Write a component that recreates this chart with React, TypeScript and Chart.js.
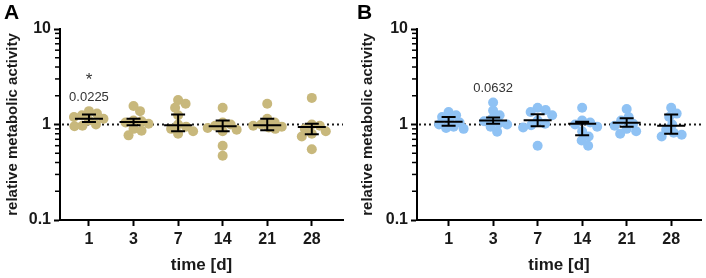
import React, { useEffect, useRef } from 'react';
import { Chart, registerables } from 'chart.js';
Chart.register(...registerables);

// ---------- data ----------
const DAYS = ['1', '3', '7', '14', '21', '28'];
const Y_MAJOR = [0.1, 1, 10];
const Y_MAJOR_LABELS = ['0.1', '1', '10'];
const REF_LINE = 1;

// Panel A (khaki)
const A_D1 = [1.38, 1.3, 1.25, 1.2, 1.15, 1.1, 1.0, 0.97, 0.96];
const A_D3 = [1.56, 1.38, 1.1, 1.08, 1.05, 1.02, 0.9, 0.86, 0.77];
const A_D7 = [1.8, 1.65, 1.5, 1.25, 1.0, 0.95, 0.9, 0.85, 0.8];
const A_D14 = [1.5, 1.05, 1.0, 0.97, 0.92, 0.88, 0.85, 0.6, 0.47];
const A_D21 = [1.65, 1.15, 1.05, 1.0, 0.97, 0.95, 0.93, 0.9];
const A_D28 = [1.9, 1.0, 0.97, 0.9, 0.85, 0.8, 0.75, 0.55];
const A_MEAN = [1.15, 1.06, 0.98, 0.96, 0.98, 0.94];
const A_HI = [1.27, 1.15, 1.27, 1.1, 1.15, 1.02];
const A_LO = [1.06, 0.98, 0.85, 0.85, 0.87, 0.79];
const A_NOTES = [
  { cat: 0, y: 3.1, text: '*', size: 17 },
  { cat: 0, y: 1.9, text: '0.0225', size: 13 },
];

// Panel B (blue)
const B_D1 = [1.35, 1.25, 1.2, 1.1, 1.05, 1.0, 0.95, 0.92, 0.9];
const B_D3 = [1.7, 1.4, 1.25, 1.15, 1.08, 1.03, 1.0, 0.95, 0.84];
const B_D7 = [1.5, 1.42, 1.35, 1.25, 1.1, 1.02, 0.98, 0.93, 0.6];
const B_D14 = [1.5, 1.1, 1.05, 1.0, 0.95, 0.85, 0.75, 0.68, 0.6];
const B_D21 = [1.45, 1.2, 1.1, 1.02, 0.97, 0.9, 0.85, 0.8];
const B_D28 = [1.5, 1.3, 1.2, 1.0, 0.88, 0.82, 0.78, 0.75];
const B_MEAN = [1.07, 1.1, 1.11, 1.02, 1.04, 0.97];
const B_HI = [1.2, 1.185, 1.28, 1.07, 1.16, 1.27];
const B_LO = [0.97, 1.02, 0.96, 0.77, 0.945, 0.8];
const B_NOTES = [{ cat: 1, y: 2.37, text: '0.0632', size: 13 }];

const FONT = "'Liberation Sans', Arial, sans-serif";
const INK = '#1a1a1a';

const isMajor = (v: number) => Math.abs(Math.log10(v) - Math.round(Math.log10(v))) < 1e-6;

function makeYTicks() {
  const out: { value: number }[] = [];
  for (let k = -1; k <= 1; k++) {
    const base = Math.pow(10, k);
    for (let m = 1; m <= (k === 1 ? 1 : 9); m++) out.push({ value: +(m * base).toPrecision(6) });
  }
  return out;
}

type PanelProps = {
  letter: string;
  groups: number[][];
  mean: number[];
  hi: number[];
  lo: number[];
  color: string;
  notes: { cat: number; y: number; text: string; size: number }[];
  yWidth: number;
  padRight: number;
  xMin: number;
  xMax: number;
  titlePad: number;
};

function Panel(p: PanelProps) {
  const ref = useRef<HTMLCanvasElement | null>(null);
  useEffect(() => {
    if (!ref.current) return;
    const points: { x: number; y: number }[] = [];
    p.groups.forEach((g, i) => g.forEach((v) => points.push({ x: i, y: v })));
    const R = 5;

    const swarm = {
      id: 'swarm',
      afterDatasetsUpdate(chart: any) {
        const meta = chart.getDatasetMeta(0);
        const xs = chart.scales.x;
        const cats = new Map<number, any[]>();
        meta.data.forEach((el: any, i: number) => {
          const c = points[i].x;
          if (!cats.has(c)) cats.set(c, []);
          cats.get(c)!.push(el);
        });
        const MAXOFF = 15;
        const minD = 8;
        cats.forEach((els, c) => {
          const cx = xs.getPixelForValue(c);
          const sorted = [...els].sort((a, b) => a.y - b.y);
          const placed: { x: number; y: number }[] = [];
          sorted.forEach((el) => {
            let chosen: number | null = null;
            let best = 0;
            let bestD = -1;
            for (let k = 0; k <= MAXOFF * 4; k++) {
              const off = (k % 2 === 1 ? 1 : -1) * Math.ceil(k / 2) * 0.5;
              let dmin = Infinity;
              placed.forEach((q) => {
                const d = Math.hypot(q.x - off, q.y - el.y);
                if (d < dmin) dmin = d;
              });
              if (dmin >= minD) { chosen = off; break; }
              if (dmin > bestD) { bestD = dmin; best = off; }
            }
            const o = chosen === null ? best : chosen;
            placed.push({ x: o, y: el.y });
            el.x = cx + o;
          });
        });
      },
    };

    const deco = {
      id: 'deco',
      beforeDatasetsDraw(chart: any) {
        const { ctx, chartArea, scales } = chart;
        const y = scales.y.getPixelForValue(REF_LINE);
        ctx.save();
        ctx.strokeStyle = INK;
        ctx.lineWidth = 2;
        ctx.setLineDash([2, 3]);
        ctx.beginPath();
        ctx.moveTo(chartArea.left + 2, y);
        ctx.lineTo(chartArea.right, y);
        ctx.stroke();
        ctx.restore();
      },
      afterDatasetsDraw(chart: any) {
        const { ctx, scales } = chart;
        ctx.save();
        ctx.strokeStyle = '#000';
        ctx.lineWidth = 2;
        ctx.lineCap = 'butt';
        p.mean.forEach((m, i) => {
          const x = scales.x.getPixelForValue(i);
          const ym = scales.y.getPixelForValue(m);
          const yh = scales.y.getPixelForValue(p.hi[i]);
          const yl = scales.y.getPixelForValue(p.lo[i]);
          ctx.beginPath();
          ctx.moveTo(x - 14, ym); ctx.lineTo(x + 14, ym);
          ctx.moveTo(x, yh); ctx.lineTo(x, yl);
          ctx.moveTo(x - 7, yh); ctx.lineTo(x + 7, yh);
          ctx.moveTo(x - 7, yl); ctx.lineTo(x + 7, yl);
          ctx.stroke();
        });
        ctx.fillStyle = '#333';
        ctx.textAlign = 'center';
        ctx.textBaseline = 'middle';
        p.notes.forEach((n) => {
          ctx.font = `${n.size}px ${FONT}`;
          ctx.fillText(n.text, scales.x.getPixelForValue(n.cat), scales.y.getPixelForValue(n.y) + (n.text === '*' ? 3 : 0));
        });
        // minor log ticks on the y axis
        const left = chart.chartArea.left;
        ctx.strokeStyle = '#000';
        ctx.lineWidth = 1.5;
        makeYTicks()
          .map((t) => t.value)
          .filter((v) => !isMajor(v))
          .forEach((v) => {
            const y = scales.y.getPixelForValue(v);
            ctx.beginPath();
            ctx.moveTo(left - 5, y);
            ctx.lineTo(left, y);
            ctx.stroke();
          });
        ctx.restore();
      },
    };

    const chart = new Chart(ref.current, {
      type: 'scatter',
      data: {
        datasets: [
          {
            data: points,
            backgroundColor: p.color,
            borderWidth: 0,
            pointRadius: R,
            pointHoverRadius: R,
          },
        ],
      },
      options: {
        animation: false,
        responsive: false,
        events: [],
        layout: { padding: { top: 29, right: p.padRight, left: 0, bottom: 0 } },
        plugins: { legend: { display: false }, tooltip: { enabled: false } },
        scales: {
          x: {
            type: 'linear',
            min: p.xMin,
            max: p.xMax,
            afterBuildTicks: (s: any) => { s.ticks = DAYS.map((_, i) => ({ value: i })); },
            afterFit: (s: any) => { s.height = 58; },
            ticks: {
              autoSkip: false,
              maxRotation: 0,
              padding: 4,
              color: INK,
              font: { family: FONT, size: 16, weight: 'bold' },
              callback: (v: any) => DAYS[Math.round(v)] ?? '',
            },
            grid: { display: true, drawOnChartArea: false, drawTicks: true, tickLength: 6, tickWidth: 2, tickColor: '#000' },
            border: { display: true, color: '#000', width: 2 },
            title: {
              display: true,
              text: 'time [d]',
              color: INK,
              font: { family: FONT, size: 17, weight: 'bold' },
              padding: { top: 4, bottom: 2 },
            },
          },
          y: {
            type: 'logarithmic',
            min: 0.1,
            max: 10,
            afterBuildTicks: (s: any) => { s.ticks = makeYTicks(); },
            afterFit: (s: any) => { s.width = p.yWidth; },
            ticks: {
              autoSkip: false,
              padding: 3,
              color: INK,
              font: { family: FONT, size: 16, weight: 'bold' },
              callback: (v: any) => {
                const idx = Y_MAJOR.findIndex((m) => Math.abs(m - v) < 1e-9);
                return idx >= 0 ? Y_MAJOR_LABELS[idx] : '';
              },
            },
            grid: {
              display: true,
              drawOnChartArea: false,
              drawTicks: true,
              tickLength: 6,
              tickWidth: 2,
              tickColor: (c: any) => (c.tick && isMajor(c.tick.value) ? '#000' : 'rgba(0,0,0,0)'),
            },
            border: { display: true, color: '#000', width: 2 },
            title: {
              display: true,
              text: 'relative metabolic activity',
              color: INK,
              font: { family: FONT, size: 15, weight: 'bold' },
              padding: { top: p.titlePad, bottom: 0 },
            },
          },
        },
      },
      plugins: [swarm, deco],
    } as any);
    return () => chart.destroy();
  }, []);

  return (
    <div style={{ position: 'relative', width: 353, height: 278 }}>
      <canvas ref={ref} width={353} height={278} style={{ display: 'block' }} />
      <div
        style={{
          position: 'absolute',
          left: 4,
          top: 1,
          fontFamily: FONT,
          fontWeight: 'bold',
          fontSize: 21,
          lineHeight: '21px',
          color: '#000',
        }}
      >
        {p.letter}
      </div>
    </div>
  );
}

export default function App() {
  return (
    <div style={{ position: 'absolute', left: 0, top: 0, width: 706, height: 278, display: 'flex', background: '#fff' }}>
      <Panel
        letter="A"
        groups={[A_D1, A_D3, A_D7, A_D14, A_D21, A_D28]}
        mean={A_MEAN}
        hi={A_HI}
        lo={A_LO}
        color="#c8b87c"
        notes={A_NOTES}
        yWidth={60}
        padRight={10}
        xMin={-0.65}
        xMax={5.7}
        titlePad={4}
      />
      <Panel
        letter="B"
        groups={[B_D1, B_D3, B_D7, B_D14, B_D21, B_D28]}
        mean={B_MEAN}
        hi={B_HI}
        lo={B_LO}
        color="#8fc2f4"
        notes={B_NOTES}
        yWidth={64}
        padRight={3}
        xMin={-0.71}
        xMax={5.67}
        titlePad={6}
      />
    </div>
  );
}
